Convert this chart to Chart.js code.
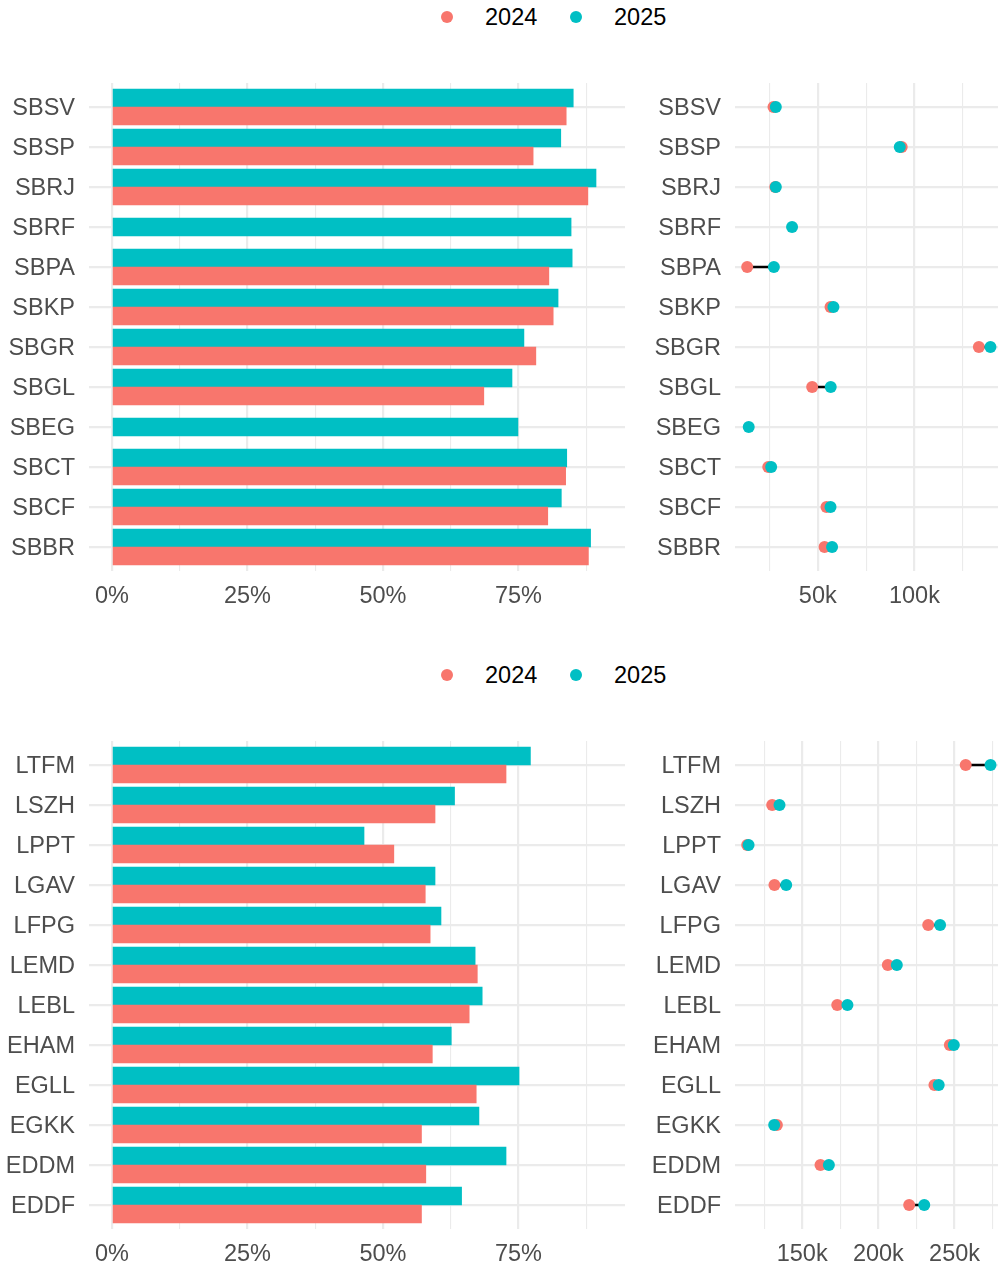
<!DOCTYPE html>
<html>
<head>
<meta charset="utf-8">
<script src="https://cdn.jsdelivr.net/npm/chart.js@4.4.1/dist/chart.umd.min.js"></script>
<style>
  body { margin: 0; background: #fff; }
  #page { position: relative; width: 998px; height: 1266px; overflow: hidden; background: #fff;
          font-family: "Liberation Sans", Arial, sans-serif; }
  canvas { position: absolute; }
  .legend { position: absolute; left: 0; width: 998px; height: 30px; }
  .dot { position: absolute; top: 9px; width: 12px; height: 12px; border-radius: 50%; }
  .lab { position: absolute; top: 0; font-size: 23.5px; line-height: 30px; color: #000; }
</style>
</head>
<body>
<div id="page">
  <div class="legend" style="top:2px">
    <span class="dot" style="left:441px;background:#F8766D"></span><span class="lab" style="left:485px">2024</span>
    <span class="dot" style="left:570px;background:#00BFC4"></span><span class="lab" style="left:614px">2025</span>
  </div>
  <canvas id="brShare" width="625" height="528" style="left:0;top:83px"></canvas>
  <canvas id="brFlights" width="358" height="528" style="left:640px;top:83px"></canvas>

  <div class="legend" style="top:660px">
    <span class="dot" style="left:441px;background:#F8766D"></span><span class="lab" style="left:485px">2024</span>
    <span class="dot" style="left:570px;background:#00BFC4"></span><span class="lab" style="left:614px">2025</span>
  </div>
  <canvas id="euShare" width="625" height="528" style="left:0;top:741px"></canvas>
  <canvas id="euFlights" width="358" height="528" style="left:640px;top:741px"></canvas>
</div>

<script>
// rows listed top to bottom
const brLabels = ["SBSV", "SBSP", "SBRJ", "SBRF", "SBPA", "SBKP", "SBGR", "SBGL", "SBEG", "SBCT", "SBCF", "SBBR"];
const brShare2024 = [83.8, 77.7, 87.8, null, 80.6, 81.4, 78.2, 68.6, null, 83.7, 80.4, 87.9];
const brShare2025 = [85.1, 82.8, 89.3, 84.7, 84.9, 82.3, 76.0, 73.8, 74.9, 83.9, 82.9, 88.3];
const brFlights2024 = [27100, 93400, 28000, null, 13500, 56600, 133300, 47100, null, 24400, 54500, 53500];
const brFlights2025 = [28300, 92400, 28300, 36700, 27300, 58100, 139300, 56700, 14300, 25900, 56600, 57400];

const euLabels = ["LTFM", "LSZH", "LPPT", "LGAV", "LFPG", "LEMD", "LEBL", "EHAM", "EGLL", "EGKK", "EDDM", "EDDF"];
const euShare2024 = [72.7, 59.6, 52.0, 57.8, 58.7, 67.4, 65.9, 59.1, 67.2, 57.1, 57.9, 57.1];
const euShare2025 = [77.2, 63.2, 46.5, 59.6, 60.7, 67.0, 68.3, 62.6, 75.1, 67.7, 72.7, 64.5];
const euFlights2024 = [257300, 130300, 113900, 131800, 232700, 206200, 173000, 246900, 236800, 133400, 162000, 220200];
const euFlights2025 = [273600, 135100, 114800, 139500, 240500, 212100, 179700, 249500, 239600, 131600, 167500, 230100];

const RED = "#F8766D", TEAL = "#00BFC4", GRID = "#EBEBEB", TXT = "#4D4D4D";
const FONT = { family: "'Liberation Sans', Arial, sans-serif", size: 23.5 };

// no automatic room for edge labels: the panel box is fixed by the canvas
function noPad(s) {
  s.paddingTop = 0; s.paddingBottom = 0; s.paddingLeft = 0; s.paddingRight = 0;
}

function rowAxis(labels, width) {
  return {
    type: "linear", min: -0.6, max: labels.length - 0.4, reverse: true, offset: false,
    afterFit: (s) => { s.width = width; noPad(s); },
    afterBuildTicks: (s) => { s.ticks = labels.map((_, i) => ({ value: i })); },
    ticks: { autoSkip: false, padding: 14, labelOffset: 2, color: TXT, font: FONT,
             callback: (v) => labels[v] },
    grid: { color: GRID, lineWidth: 2.2, drawTicks: false, offset: false },
    border: { display: false }
  };
}

function valueAxis(min, max, step, major, fmt) {
  const isMajor = (v) => Math.abs(v / major - Math.round(v / major)) < 1e-6;
  return {
    type: "linear", min, max, offset: false,
    afterFit: (s) => { s.height = 40; noPad(s); },
    afterBuildTicks: (s) => {
      const t = [];
      for (let v = Math.ceil(min / step) * step; v <= max; v += step) t.push({ value: v });
      s.ticks = t;
    },
    ticks: { autoSkip: false, maxRotation: 0, padding: 11, color: TXT, font: FONT,
             callback: (v) => isMajor(v) ? fmt(v) : "" },
    grid: { color: GRID, lineWidth: (c) => isMajor(c.tick.value) ? 2.2 : 1.1, drawTicks: false, offset: false },
    border: { display: false }
  };
}

// ggplot-like dodge: two bars split the row, a lone bar stays centred
function dodge(a, b, i) {
  return a[i] != null && b[i] != null ? 0.225 : 0;
}

function shareChart(id, labels, v24, v25) {
  const pts = (vals, other, sign) =>
    vals.map((v, i) => ({ x: v, y: i + sign * dodge(vals, other, i) })).filter((p) => p.x != null);
  new Chart(document.getElementById(id), {
    type: "bar",
    data: {
      datasets: [
        { label: "2024", data: pts(v24, v25, 1), backgroundColor: RED },
        { label: "2025", data: pts(v25, v24, -1), backgroundColor: TEAL }
      ]
    },
    options: {
      indexAxis: "y", responsive: false, animation: false, events: [],
      layout: { autoPadding: false, padding: 0 },
      datasets: { bar: { grouped: false, categoryPercentage: 1, barPercentage: 1 } },
      plugins: { legend: { display: false }, tooltip: { enabled: false } },
      scales: {
        x: valueAxis(-4.24, 94.65, 12.5, 25, (v) => v + "%"),
        y: rowAxis(labels, 89)
      }
    }
  });
}

function flightsChart(id, labels, v24, v25, min, max) {
  const pts = (vals) => vals.map((v, i) => ({ x: v, y: i })).filter((p) => p.x != null);
  const seg = [];
  labels.forEach((_, i) => {
    if (v24[i] != null && v25[i] != null) {
      seg.push({ x: v24[i], y: i }, { x: v25[i], y: i }, { x: null, y: null });
    }
  });
  new Chart(document.getElementById(id), {
    type: "scatter",
    data: {
      datasets: [
        { label: "2025", data: pts(v25), backgroundColor: TEAL, pointRadius: 6, borderWidth: 0 },
        { label: "2024", data: pts(v24), backgroundColor: RED, pointRadius: 6, borderWidth: 0 },
        { type: "line", data: seg, borderColor: "#000", borderWidth: 2.6, pointRadius: 0,
          spanGaps: false, fill: false }
      ]
    },
    options: {
      responsive: false, animation: false, events: [],
      layout: { autoPadding: false, padding: 0 },
      plugins: { legend: { display: false }, tooltip: { enabled: false } },
      scales: {
        x: valueAxis(min, max, 25000, 50000, (v) => v / 1000 + "k"),
        y: rowAxis(labels, 95)
      }
    }
  });
}

shareChart("brShare", brLabels, brShare2024, brShare2025);
flightsChart("brFlights", brLabels, brFlights2024, brFlights2025, 7200, 143200);
shareChart("euShare", euLabels, euShare2024, euShare2025);
flightsChart("euFlights", euLabels, euFlights2024, euFlights2025, 105900, 278500);
</script>
</body>
</html>
